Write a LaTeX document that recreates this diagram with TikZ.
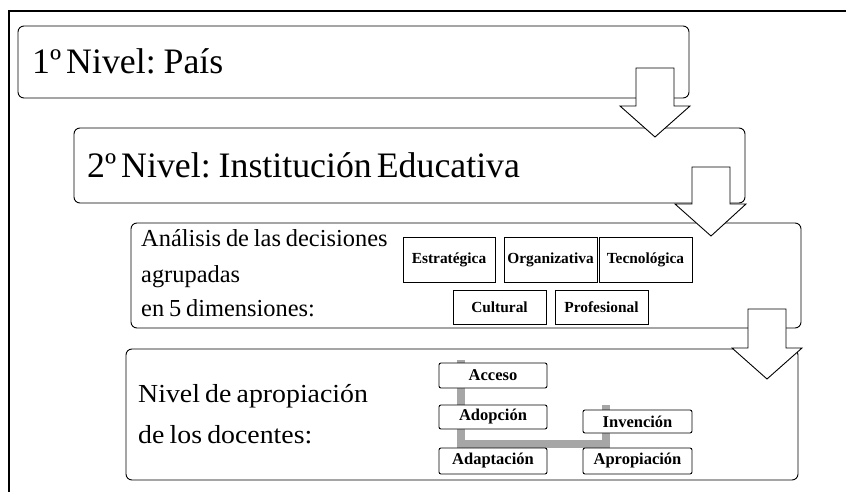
\documentclass[tikz,border=0pt]{standalone}
\usepackage{fontspec}
\setmainfont{Liberation Serif}
\newfontfamily\anchafont[FakeStretch=1.07]{Liberation Serif}
\newcommand\espaciado{\spaceskip=0.14em\relax}
\newcommand\espaciadoancho{\spaceskip=0.2em\relax}
\tikzset{
  nivel/.style={draw, rounded corners=6pt, line width=0.9pt, fill=white, inner sep=0pt},
  titulo/.style={anchor=base west, inner sep=0pt, font=\fontsize{35.8}{36}\selectfont\espaciado},
  texto/.style={anchor=base west, inner sep=0pt, font=\fontsize{24.4}{26}\selectfont\espaciadoancho},
  dimension/.style={draw, line width=0.9pt, fill=white, inner sep=0pt, minimum width=93pt, font=\fontsize{15.4}{17}\selectfont\bfseries},
  etapa/.style={draw, rounded corners=2pt, line width=0.9pt, fill=white, inner sep=0pt, minimum width=108pt, font=\fontsize{16.5}{18}\selectfont\bfseries},
  flecha/.style={draw, line width=0.9pt, fill=white},
  camino/.style={draw=black!35, line width=8pt}
}
\begin{document}
\begin{tikzpicture}[x=1pt,y=-1pt]
\useasboundingbox (0,0) rectangle (846,492);
\draw[line width=1.2pt] (8,11) -- (846,11);
\draw[line width=1.2pt] (9,11) -- (9,492);
% niveles
\node[nivel, minimum width=671pt, minimum height=72pt] (pais) at (353.5,62) {};
\node[titulo] (t1) at (32,74) {1º Nivel: País};
\node[nivel, minimum width=671pt, minimum height=75pt] (inst) at (409.5,165.5) {};
\node[titulo] (t2) at (87,177) {2º Nivel: Institución Educativa};
\node[nivel, minimum width=670pt, minimum height=105pt] (dec) at (466,275.5) {};
\node[texto] (an1) at (141,246) {Análisis de las decisiones};
\node[texto] (an2) at (141,282) {agrupadas};
\node[texto] (an3) at (141,316) {en 5 dimensiones:};
\node[nivel, minimum width=672pt, minimum height=131pt] (doc) at (462,414.5) {};
\node[texto, font=\anchafont\fontsize{26}{28}\selectfont\espaciadoancho] (ap1) at (138,402) {Nivel de apropiación};
\node[texto, font=\anchafont\fontsize{26}{28}\selectfont\espaciadoancho] (ap2) at (138,443) {de los docentes:};
% dimensiones
\node[dimension, minimum width=92pt, minimum height=45pt] (estr) at (449,259.5) {Estratégica};
\node[dimension, minimum height=45pt] (org) at (550.5,259.5) {Organizativa};
\node[dimension, minimum height=45pt] (tec) at (645.5,259.5) {Tecnológica};
\node[dimension, minimum height=34pt] (cul) at (499.5,307) {Cultural};
\node[dimension, minimum height=34pt] (prof) at (601.5,307) {Profesional};
% etapas
\coordinate (ini) at (461,360);
\coordinate (fin) at (606,405);
\draw[camino] (ini) -- (461,444) -| (fin);
\node[etapa, minimum height=25pt] (acceso) at (493,375.5) {Acceso};
\node[etapa, minimum height=24pt] (adop) at (493,417) {Adopción};
\node[etapa, minimum height=26pt] (adap) at (493,461) {Adaptación};
\node[etapa, minimum width=109pt, minimum height=23pt] (inv) at (637.5,421.5) {Invención};
\node[etapa, minimum width=109pt, minimum height=26pt] (apro) at (637.5,461) {Apropiación};
% flechas
\draw[flecha] (636,68) -- (674,68) -- (674,106) -- (690,106) -- (655,137) -- (620,106) -- (636,106) -- cycle;
\draw[flecha] (692,167) -- (730,167) -- (730,204) -- (746,204) -- (711,236) -- (675,204) -- (692,204) -- cycle;
\draw[flecha] (748,309) -- (786,309) -- (786,348) -- (802,348) -- (767,379) -- (732,348) -- (748,348) -- cycle;
\end{tikzpicture}
\end{document}
